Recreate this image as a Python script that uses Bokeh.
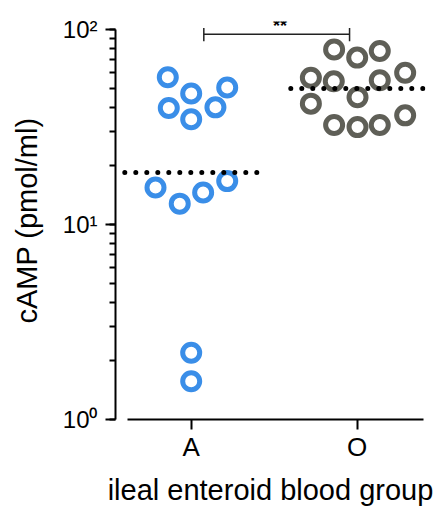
from bokeh.plotting import figure
from bokeh.models import FixedTicker, LogTicker, CustomJSTickFormatter, Range1d
from bokeh.core.properties import value
from bokeh.embed import file_html
from bokeh.resources import INLINE

# ---- data ----
categories = ["A", "O"]
a_values = [56.9, 47.0, 50.5, 39.6, 39.9, 34.7, 15.5, 12.8, 14.6, 16.7, 2.20, 1.57]
a_jitter = [-0.141, 0.0, 0.217, -0.135, 0.146, 0.0, -0.215, -0.069, 0.072, 0.217, 0.0, 0.0]
o_values = [79.0, 71.8, 77.7, 56.6, 54.3, 54.9, 60.0, 41.7, 45.0, 32.4, 31.6, 32.4, 36.3]
o_jitter = [-0.139, 0.0, 0.136, -0.279, -0.141, 0.136, 0.289, -0.279, 0.002, -0.139, 0.002, 0.136, 0.289]
center_values = [18.5, 49.8]
sig_label = "**"
sig_y = 94.7
y_tick_values = [1, 10, 100]
y_tick_labels = ["10\u2070", "10\u00b9", "10\u00b2"]

FONT = "Liberation Sans"
BLUE = "#3a8ee8"
GRAY = "#5f5f57"

xpos = [i + 1 for i in range(len(categories))]

p = figure(width=443, height=508, y_axis_type="log",
           x_range=Range1d(0.544, 2.4115), y_range=Range1d(1, 110),
           output_backend="svg", toolbar_location=None, title=None,
           min_border_left=115, min_border_right=18,
           min_border_top=21, min_border_bottom=88)
p.outline_line_color = None
p.xgrid.visible = False
p.ygrid.visible = False
p.background_fill_color = "white"
p.border_fill_color = "white"

# points
p.scatter([xpos[0] + j for j in a_jitter], a_values, size=17, marker="circle",
          fill_color=None, line_color=BLUE, line_width=5)
p.scatter([xpos[1] + j for j in o_jitter], o_values, size=17, marker="circle",
          fill_color=None, line_color=GRAY, line_width=5)

# center lines (dotted)
for xc, cv in zip(xpos, center_values):
    p.line([xc - 0.40, xc + 0.40], [cv, cv], line_color="black", line_width=5,
           line_dash="0 11", line_cap="round")

# significance bracket
x0 = xpos[0] + 0.076
x1 = xpos[1] - 0.046
p.line([x0, x1], [sig_y, sig_y], line_color="#222222", line_width=1.5)
p.segment([x0, x1], [sig_y * 0.92, sig_y * 0.92], [x0, x1], [sig_y * 1.077, sig_y * 1.077],
          line_color="#222222", line_width=1.5)
p.text([(x0 + x1) / 2 + 0.02], [sig_y * 1.1], text=[sig_label], text_align="center",
       text_baseline="alphabetic", text_font=value(FONT), text_font_size="18px",
       text_font_style="bold", text_color="black")

# x axis
xa = p.xaxis[0]
xa.ticker = FixedTicker(ticks=xpos)
xa.major_label_overrides = {x: c for x, c in zip(xpos, categories)}
xa.bounds = (0.616, 2.398)
xa.axis_line_width = 2
xa.axis_line_color = "black"
xa.major_tick_line_width = 2
xa.major_tick_line_color = "black"
xa.major_tick_out = 10
xa.major_tick_in = 0
xa.minor_tick_line_color = None
xa.major_label_text_font = FONT
xa.major_label_text_font_size = "26px"
xa.major_label_text_color = "black"
xa.major_label_standoff = 2
xa.axis_label = "ileal enteroid blood group"
xa.axis_label_text_font = FONT
xa.axis_label_text_font_size = "29px"
xa.axis_label_text_font_style = "normal"
xa.axis_label_text_color = "black"
xa.axis_label_standoff = 9

# y axis
ya = p.yaxis[0]
ya.ticker = LogTicker(num_minor_ticks=10)
ya.bounds = (1, 100)
ya.formatter = CustomJSTickFormatter(
    args=dict(vals=y_tick_values, labs=y_tick_labels),
    code="""
    for (let i = 0; i < vals.length; i++) {
        if (Math.abs(tick - vals[i]) < 1e-6 * vals[i]) { return labs[i]; }
    }
    return '';
    """)
ya.axis_line_width = 2
ya.axis_line_color = "black"
ya.major_tick_line_width = 2
ya.major_tick_line_color = "black"
ya.minor_tick_line_width = 2
ya.minor_tick_line_color = "black"
ya.major_tick_out = 10
ya.major_tick_in = 0
ya.minor_tick_out = 6
ya.minor_tick_in = 0
ya.major_label_text_font = FONT
ya.major_label_text_font_size = "24px"
ya.major_label_text_color = "black"
ya.major_label_standoff = 8
ya.axis_label = "cAMP (pmol/ml)"
ya.axis_label_text_font = FONT
ya.axis_label_text_font_size = "29px"
ya.axis_label_text_font_style = "normal"
ya.axis_label_text_color = "black"
ya.axis_label_standoff = 17

open("out.html", "w").write(file_html(p, INLINE))
